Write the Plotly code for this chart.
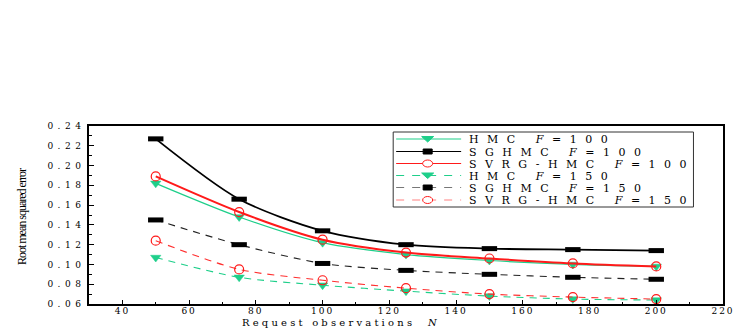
import plotly.graph_objects as go

N = [50, 75, 100, 125, 150, 175, 200]
hmc_100 = [0.182, 0.148, 0.122, 0.110, 0.104, 0.100, 0.098]
sghmc_100 = [0.227, 0.166, 0.134, 0.120, 0.116, 0.115, 0.114]
svrg_100 = [0.189, 0.153, 0.125, 0.112, 0.106, 0.101, 0.098]
hmc_150 = [0.107, 0.087, 0.079, 0.073, 0.068, 0.065, 0.064]
sghmc_150 = [0.145, 0.120, 0.101, 0.094, 0.090, 0.087, 0.085]
svrg_150 = [0.124, 0.095, 0.084, 0.076, 0.070, 0.067, 0.065]

x_ticks = [40, 60, 80, 100, 120, 140, 160, 180, 200, 220]
y_ticks = [0.06, 0.08, 0.10, 0.12, 0.14, 0.16, 0.18, 0.20, 0.22, 0.24]

GREEN = "#1ecf8a"
RED = "#ff1a1a"
BLACK = "#000000"
SERIF = "DejaVu Serif"

series = [
    ("HMC <i>F</i>=100", hmc_100, GREEN, "solid", 1.2, GREEN, "tri"),
    ("SGHMC <i>F</i>=100", sghmc_100, BLACK, "solid", 1.8, BLACK, "sq"),
    ("SVRG-HMC <i>F</i>=100", svrg_100, RED, "solid", 2.0, RED, "circ"),
    ("HMC <i>F</i>=150", hmc_150, GREEN, "7px,6px", 1.1, GREEN, "tri"),
    ("SGHMC <i>F</i>=150", sghmc_150, "#222222", "7px,6px", 1.1, BLACK, "sq"),
    ("SVRG-HMC <i>F</i>=150", svrg_150, "#ff3030", "7px,6px", 1.1, RED, "circ"),
]

def marker_for(kind, mcol):
    if kind == "tri":
        return dict(symbol="triangle-down", size=9, color=mcol, line=dict(color=mcol, width=0.5))
    if kind == "sq":
        return dict(symbol="line-ew", size=11, color=mcol, line=dict(color=mcol, width=5))
    return dict(symbol="circle-open", size=9, color=mcol, line=dict(color=mcol, width=1.2))

fig = go.Figure()
for name, ys, col, dash, w, mcol, kind in series:
    fig.add_trace(go.Scatter(
        x=N, y=ys, name=name, mode="lines+markers", showlegend=False,
        line=dict(color=col, dash=dash, width=w, shape="spline", smoothing=0.8),
        marker=marker_for(kind, mcol),
    ))

# plot area in page pixels: x 89..733, y 126..304
def xp(px):
    return (px - 89) / 644.0

def yp(py):
    return (304 - py) / 178.0

def spaced(s, sp):
    return '<span style="letter-spacing:%spx">%s</span>' % (sp, s)

shapes = []
annotations = []
shapes.append(dict(type="rect", xref="paper", yref="paper",
                   x0=xp(398), x1=xp(703), y0=yp(207), y1=yp(132),
                   line=dict(color="#333333", width=1), fillcolor="white", layer="above"))
rows = [139, 151.5, 163.5, 175.5, 187.5, 200]
for (name, ys, col, dash, w, mcol, kind), ry in zip(series, rows):
    if dash == "solid":
        lcol, ldash, lw = col, "solid", 1.2
    else:
        lcol = "#777777" if mcol == BLACK else ("#ff8080" if mcol == RED else col)
        ldash, lw = "8px,8px", 1.0
    shapes.append(dict(type="line", xref="paper", yref="paper",
                       x0=xp(401), x1=xp(467), y0=yp(ry), y1=yp(ry),
                       line=dict(color=lcol, width=lw, dash=ldash), layer="above"))
    common = dict(xref="paper", yref="paper", xsizemode="pixel", ysizemode="pixel",
                  xanchor=xp(433), yanchor=yp(ry), layer="above")
    if kind == "tri":
        shapes.append(dict(type="path", path="M -6,2.5 L 6,2.5 L 0,-3 Z",
                           fillcolor=mcol, line=dict(color=mcol, width=1), **common))
    elif kind == "sq":
        shapes.append(dict(type="rect", x0=-4.5, x1=4.5, y0=-2.5, y1=2.5,
                           fillcolor=mcol, line=dict(color=mcol, width=1), **common))
    else:
        shapes.append(dict(type="circle", x0=-5, x1=5, y0=-3.5, y1=3.5,
                           fillcolor="white", line=dict(color=mcol, width=1), **common))
    annotations.append(dict(
        text=spaced(name, 8.5),
        xref="paper", yref="paper", x=xp(474), y=yp(ry),
        xanchor="left", yanchor="middle", showarrow=False, height=12, borderpad=0,
        font=dict(family=SERIF, size=11, color="black")))

fig.update_layout(
    width=747, height=332,
    margin=dict(l=89, r=14, t=126, b=28),
    paper_bgcolor="white", plot_bgcolor="white",
    showlegend=False,
    font=dict(family=SERIF, color="black"),
    shapes=shapes, annotations=annotations,
)
fig.update_xaxes(
    range=[30, 220], tickvals=x_ticks, ticktext=[spaced(str(v), 2) for v in x_ticks],
    ticks="inside", ticklen=4, tickcolor="black", tickwidth=1,
    minor=dict(dtick=10, tick0=30, ticks="inside", ticklen=2, tickcolor="black"),
    showline=True, linecolor="black", linewidth=1.5, mirror=True,
    showgrid=False, zeroline=False, ticklabelstandoff=-3,
    tickfont=dict(family=SERIF, size=9, color="black"),
)
fig.update_yaxes(
    range=[0.06, 0.24], tickvals=y_ticks, ticktext=[spaced("%.2f" % v, 4.5) for v in y_ticks],
    ticks="inside", ticklen=5, tickcolor="black", tickwidth=1,
    minor=dict(dtick=0.01, tick0=0.06, ticks="inside", ticklen=3, tickcolor="black"),
    showline=True, linecolor="black", linewidth=1.5, mirror=True,
    showgrid=False, zeroline=False,
    tickfont=dict(family=SERIF, size=9, color="black"),
)
fig.add_annotation(
    text=spaced("Request observations  <i>N</i>", 3.2), xref="paper", yref="paper",
    x=xp(345), y=yp(322), xanchor="center", yanchor="middle", showarrow=False,
    font=dict(family=SERIF, size=10, color="black"),
)
fig.add_annotation(
    text=spaced("Root mean squared error", -1.0), xref="paper", yref="paper",
    x=xp(21), y=yp(217), xanchor="center", yanchor="middle", textangle=-90, showarrow=False,
    font=dict(family="Liberation Serif", size=12, color="black"),
)
fig.write_html("out.html", config={"displayModeBar": False},
               post_script="document.body.style.margin='0';")
